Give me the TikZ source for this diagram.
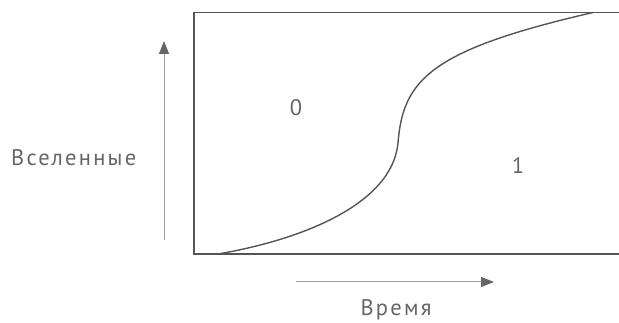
\documentclass[tikz,border=0pt]{standalone}
\usepackage{fontspec}
\setmainfont{PT Sans}[LetterSpace=10]
\usetikzlibrary{arrows.meta}
\definecolor{framegray}{HTML}{555555}
\definecolor{textgray}{HTML}{666666}
\definecolor{axisgray}{HTML}{A0A0A0}
\tikzset{
  frame/.style={draw=framegray, line width=1.6pt},
  curve/.style={draw=framegray, line width=1.4pt},
  axis/.style={draw=axisgray, line width=1pt,
    -{Triangle[length=13pt,width=10pt,color=textgray]}},
  lbl/.style={text=textgray, font=\fontsize{22.5}{26}\selectfont, inner sep=0pt}
}
\begin{document}
\begin{tikzpicture}[x=1pt, y=-1pt]
  \useasboundingbox (0,0) rectangle (619,323);
  % open frame, cut off on the right
  \draw[frame] (619,12.5) -- (194,12.5) -- (194,254) -- (619,254);
  % boundary between the two regions
  \draw[curve] (218,254) .. controls (300,240) and (392,205) .. (398,143)
    .. controls (403,80) and (430,50) .. (593,12.5);
  % axes
  \coordinate (ybot) at (164,240);
  \coordinate (ytop) at (164,41);
  \coordinate (xleft) at (296,282);
  \coordinate (xright) at (494,282);
  \draw[axis] (ybot) -- (ytop);
  \draw[axis] (xleft) -- (xright);
  % labels
  \node[lbl, anchor=base west] (univ) at (11,166) {Вселенные};
  \node[lbl, anchor=base] (time) at (396,316) {Время};
  \node[lbl, anchor=base] (zero) at (296,116) {0};
  \node[lbl, anchor=base] (one) at (518,174) {1};
\end{tikzpicture}
\end{document}
